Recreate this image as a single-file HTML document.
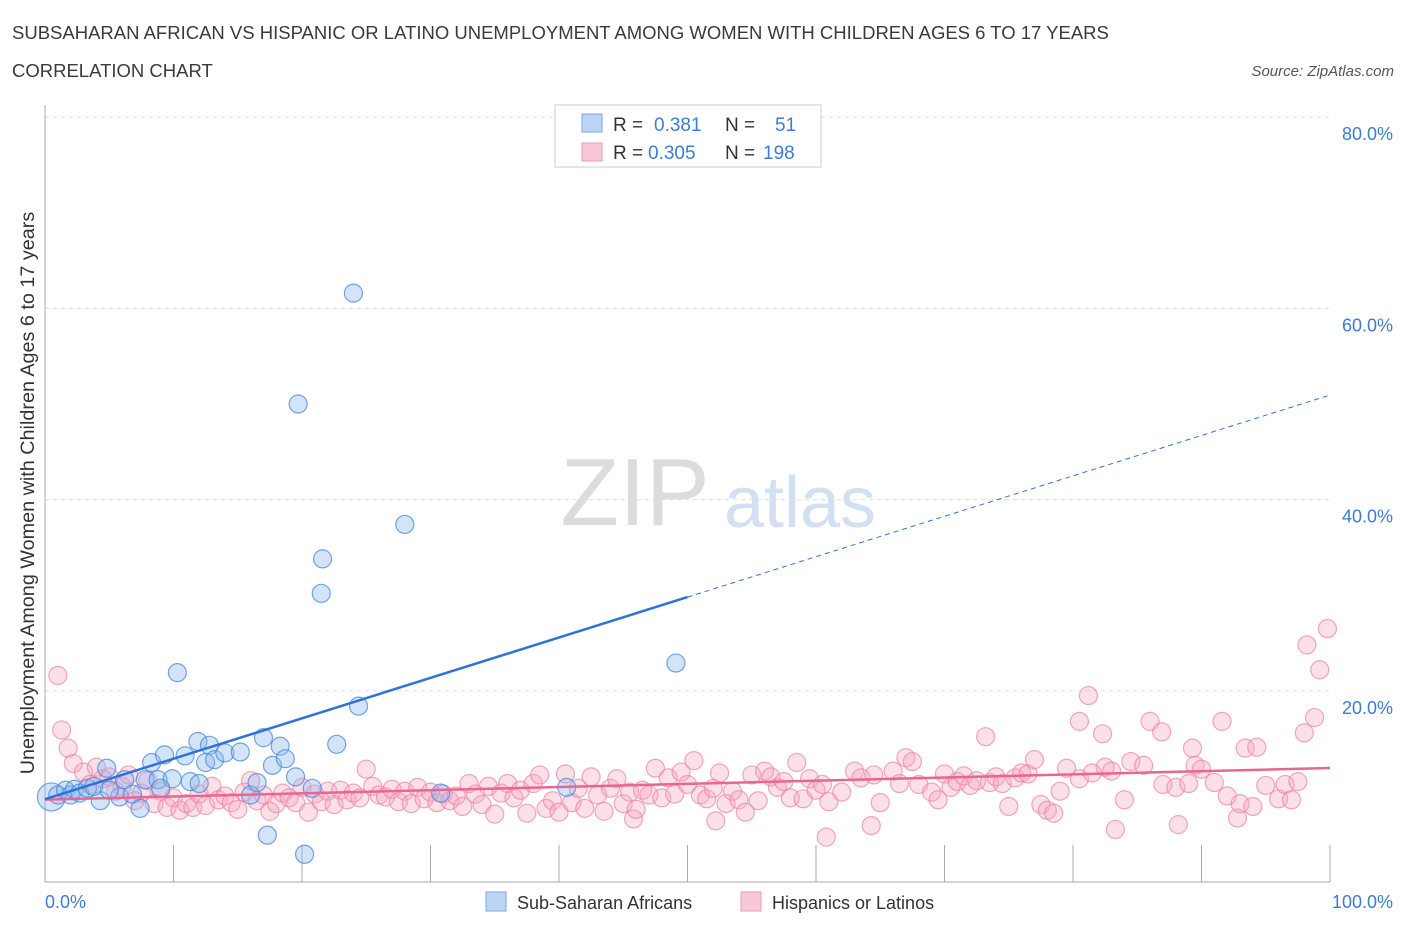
<!DOCTYPE html>
<html><head><meta charset="utf-8"><style>
body{margin:0;background:#fff;font-family:"Liberation Sans",sans-serif;}
svg text{font-family:"Liberation Sans",sans-serif;}
</style></head><body>
<svg id="chart" width="1406" height="930">
<text x="12" y="39" font-size="18.5" fill="#3a3a3a">SUBSAHARAN AFRICAN VS HISPANIC OR LATINO UNEMPLOYMENT AMONG WOMEN WITH CHILDREN AGES 6 TO 17 YEARS</text>
<text x="12" y="77" font-size="18.5" fill="#3a3a3a">CORRELATION CHART</text>
<text x="1394" y="76" font-size="15" fill="#555" font-style="italic" text-anchor="end">Source: ZipAtlas.com</text>
<text x="635" y="525" font-size="96" fill="#dcdcdc" text-anchor="middle" font-family="Liberation Serif">ZIP</text>
<text x="800" y="527" font-size="72" fill="#d2e0f2" text-anchor="middle">atlas</text>
<g id="grid"></g>
<g id="pinkPts"></g><g id="bluePts"></g><g id="lines"></g>
<text transform="translate(34,493) rotate(-90)" font-size="19.8" fill="#333" text-anchor="middle">Unemployment Among Women with Children Ages 6 to 17 years</text>
<text x="45" y="908" font-size="18" fill="#3d7bd9" text-anchor="start">0.0%</text>
<text x="1393" y="908" font-size="18" fill="#3d7bd9" text-anchor="end">100.0%</text>
<g>
<rect x="555" y="105" width="266" height="62" fill="#fff" stroke="#ccc"/>
<rect x="582" y="114" width="20" height="18" fill="#bcd5f5" stroke="#7aaae6"/>
<rect x="582" y="143" width="20" height="18" fill="#f9c8d6" stroke="#ee9ab5"/>
<text x="613" y="131" font-size="19" fill="#333">R = </text><text x="654" y="131" font-size="19" fill="#3d7bd9">0.381</text>
<text x="725" y="131" font-size="19" fill="#333">N = </text><text x="775" y="131" font-size="19" fill="#3d7bd9">51</text>
<text x="613" y="159" font-size="19" fill="#333">R = </text><text x="648" y="159" font-size="19" fill="#3d7bd9">0.305</text>
<text x="725" y="159" font-size="19" fill="#333">N = </text><text x="763" y="159" font-size="19" fill="#3d7bd9">198</text>
</g>
<g>
<rect x="486" y="892" width="20" height="19" fill="#bcd5f5" stroke="#7aaae6"/>
<text x="517" y="909" font-size="18" fill="#333">Sub-Saharan Africans</text>
<rect x="741" y="892" width="20" height="19" fill="#f9c8d6" stroke="#ee9ab5"/>
<text x="772" y="909" font-size="18" fill="#333">Hispanics or Latinos</text>
</g>
</svg>
<script>
const yTicks=[20,40,60,80];
const yTickLabels=["20.0%","40.0%","60.0%","80.0%"];
const xTicks=[0,10,20,30,40,50,60,70,80,90,100];
const blueX=[0.5,1,1.6,2,2.3,2.7,3.3,4.3,4.8,5.8,6.2,6.8,7.4,7.8,8.3,8.8,9.3,9.9,10.3,10.9,11.3,11.9,12.5,12.8,13.2,14,15.2,16,16.5,17,17.3,17.7,18.3,18.7,19.5,19.7,20.2,20.8,21.6,21.5,22.7,24,24.4,28,30.8,40.6,49.1,3.8,5,9,12];
const blueY=[8.9,9.1,9.6,9.1,9.7,9.3,9.8,8.5,11.9,8.9,10.7,9.2,7.7,10.7,12.5,10.7,13.3,10.8,21.9,13.2,10.5,14.7,12.5,14.3,12.8,13.5,13.6,9.1,10.4,15.1,4.9,12.2,14.2,12.9,11,50,2.9,9.8,33.8,30.2,14.4,61.6,18.4,37.4,9.3,9.9,22.9,10,9.6,9.8,10.3];
const pinkX=[1,1.3,1.8,2.2,73.2,81.2,80.5,82.3,86,86.9,89.3,91.6,93.4,94.3,98,98.8,98.2,99.2,99.8,60.8,64.3,83.3,88.2,92.8,52.2,45.8,
3,3.5,4,4.5,5,5.5,6,6.5,7,7.5,8,8.5,9,9.5,10,10.5,11,11.5,12,12.5,13,13.5,14,14.5,15,15.5,16,16.5,17,17.5,18,18.5,19,19.5,20,20.5,21,21.5,22,22.5,23,23.5,24,24.5,25,25.5,26,26.5,27,27.5,28,28.5,29,29.5,30,30.5,31,31.5,32,32.5,33,33.5,34,34.5,35,35.5,36,36.5,37,37.5,38,38.5,39,39.5,40,40.5,41,41.5,42,42.5,43,43.5,44,44.5,45,45.5,46,46.5,47,47.5,48,48.5,49,49.5,50,50.5,51,51.5,52,52.5,53,53.5,54,54.5,55,55.5,56,56.5,57,57.5,58,58.5,59,59.5,60,60.5,61,62,63,63.5,64.5,65,66,66.5,67,67.5,68,69,69.5,70,70.5,71,71.5,72,72.5,73.5,74,74.5,75,75.5,76,76.5,77,77.5,78,78.5,79,79.5,80.5,81.5,82.5,83,84,84.5,85.5,87,88,89,89.5,90,91,92,93,94,95,96,96.5,97,97.5];
const pinkY=[21.6,15.9,14,12.4,15.2,19.5,16.8,15.5,16.8,15.7,14,16.8,14,14.1,15.6,17.2,24.8,22.2,26.5,4.7,5.9,5.5,6,6.7,6.4,6.6,
11.5,10.2,12,10.8,11,9.5,10,11.2,8.5,9.3,10.6,8.2,9.5,7.8,8.8,7.5,8.2,7.8,9.2,8,10,8.6,9,8.3,7.6,9.4,10.6,8.5,9.1,7.4,8.2,9.3,8.8,8.3,9.9,7.3,9.2,8.4,9.5,8.1,9.6,8.6,9.3,8.8,11.8,10,9.1,8.9,9.7,8.4,9.5,8.2,9.9,8.7,9.4,8.3,9.2,8.5,9,7.9,10.3,9.2,8.1,10,7.1,9.3,10.3,8.8,9.6,7.2,10.3,11.2,7.7,8.5,7.3,11.3,8.3,9.8,7.7,11,9.1,7.4,9.8,10.8,8.2,9.4,7.6,9.6,9.1,11.9,8.8,10.9,9.2,11.5,10.2,12.7,9.1,8.7,9.8,11.4,8.2,9.5,8.6,7.3,11.2,8.5,11.6,11,9.9,10.5,8.8,12.5,8.7,10.8,9.6,10.2,8.4,9.4,11.6,10.9,11.2,8.3,11.6,10.3,13,12.6,10.2,9.4,8.6,11.3,9.9,10.5,11.1,10.1,10.6,10.4,11,10.3,7.9,10.9,11.4,11.3,12.8,8.1,7.5,7.2,9.5,11.9,10.8,11.4,12,11.6,8.6,12.6,12.2,10.2,9.9,10.3,12.2,11.8,10.4,9,8.2,7.9,10.1,8.7,10.2,8.6,10.5];
const NS="http://www.w3.org/2000/svg";
const x0=45,x1=1330,yBase=882,yPer20=191.2;
function sx(v){return x0+(x1-x0)*v/100;}
function sy(v){return yBase-yPer20*v/20;}
function mk(tag,attrs,parent){const e=document.createElementNS(NS,tag);for(const k in attrs)e.setAttribute(k,attrs[k]);parent.appendChild(e);return e;}
const grid=document.getElementById('grid');
yTicks.forEach((t,i)=>{
 const l=mk('line',{x1:45,x2:1330,y1:sy(t),y2:sy(t),stroke:'#ddd','stroke-dasharray':'4,4'},grid);
 
 
 const tx=mk('text',{x:1393,y:sy(t)+23,'font-size':18,fill:'#3d7bd9','text-anchor':'end'},grid);
 tx.textContent=yTickLabels[i];
 
 
});
const ax=mk('line',{x1:45,x2:45,y1:105,y2:882,stroke:'#aaa'},grid);


const bx=mk('line',{x1:45,x2:1330,y1:882,y2:882,stroke:'#aaa'},grid);


xTicks.forEach(t=>{
 const l=mk('line',{x1:sx(t),x2:sx(t),y1:845,y2:882,stroke:'#aaa'},grid);
 
 
});
const pg=document.getElementById('pinkPts');
pinkX.forEach((v,i)=>{
 const c=mk('circle',{cx:sx(v),cy:sy(pinkY[i]),r:9,fill:'rgba(245,165,190,0.35)',stroke:'rgba(236,130,165,0.7)','stroke-width':1.2},pg);
 
 
});
const bg=document.getElementById('bluePts');
blueX.forEach((v,i)=>{
 const c=mk('circle',{cx:sx(v),cy:sy(blueY[i]),r:i===0?14:9,fill:'rgba(140,185,240,0.38)',stroke:'rgba(70,135,220,0.75)','stroke-width':1.2},bg);
 
 
});
function fit(xs,ys){const n=xs.length;let mx=0,my=0;xs.forEach((v,i)=>{mx+=v;my+=ys[i];});mx/=n;my/=n;let a=0,b=0;xs.forEach((v,i)=>{a+=(v-mx)*(ys[i]-my);b+=(v-mx)*(v-mx);});const s=a/b;return [my-s*mx,s];}
const lg=document.getElementById('lines');
const pf=fit(pinkX,pinkY);
const pl=mk('line',{x1:sx(0),y1:sy(pf[0]),x2:sx(100),y2:sy(pf[0]+pf[1]*100),stroke:'#e8668f','stroke-width':2.5},lg);


const bf=fit(blueX,blueY);
const b1=mk('line',{x1:sx(0),y1:sy(bf[0]),x2:sx(50),y2:sy(bf[0]+bf[1]*50),stroke:'#2f72d8','stroke-width':2.5},lg);


const b2=mk('line',{x1:sx(50),y1:sy(bf[0]+bf[1]*50),x2:sx(99.8),y2:sy(bf[0]+bf[1]*99.8),stroke:'#2f72d8','stroke-width':1,'stroke-dasharray':'5,4'},lg);


</script>
</body></html>
